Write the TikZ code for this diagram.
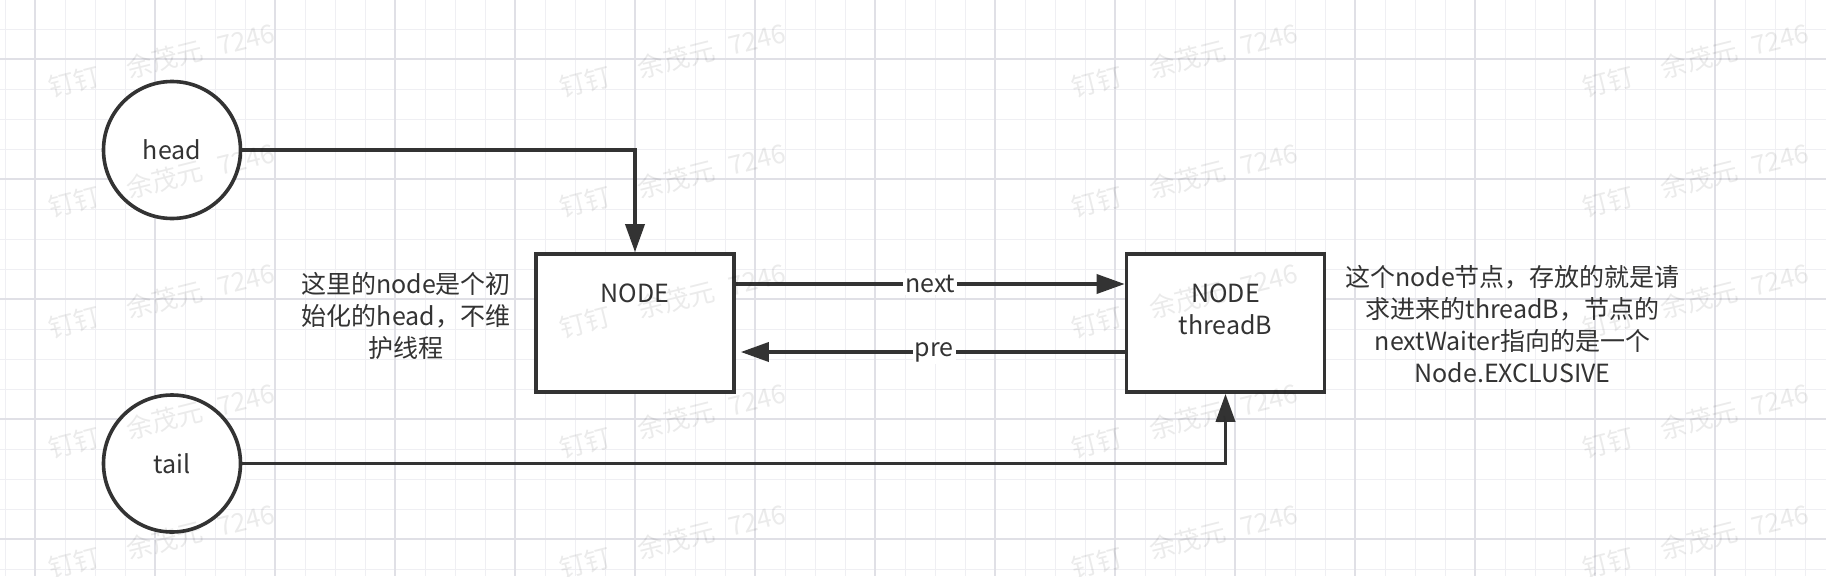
\documentclass[tikz,border=0pt]{standalone}
\usepackage{fontspec}
\setmainfont{Noto Sans CJK SC}
\usetikzlibrary{arrows.meta,positioning}

\definecolor{ink}{HTML}{333333}
\definecolor{gridminor}{RGB}{239,239,243}
\definecolor{gridmajor}{RGB}{224,224,230}

\begin{document}
\begin{tikzpicture}[%
    x=1pt, y=-1pt,              % one unit per pixel, y grows downwards
    >={Triangle[length=28pt,width=19pt]},
    node distance=2cm,
    font=\fontsize{25}{32}\selectfont,
    ]

\tikzset{
    base/.style={draw=ink, line width=3.6pt, fill=white, text=ink, align=center},
    ptr/.style={base, circle, minimum size=137pt, inner sep=0pt},
    blk/.style={base, rectangle, minimum width=198pt, minimum height=138pt, inner sep=0pt},
    note/.style={text=ink, align=center, inner sep=0pt},
    lbl/.style={fill=white, text=ink, inner sep=2pt},
    link/.style={->, draw=ink, line width=3.6pt},
    wmark/.style={text=black, text opacity=0.08, rotate=14, anchor=west, inner sep=0pt,
        font=\fontsize{26}{26}\selectfont},
}

\useasboundingbox (0,0) rectangle (1826,576);

%% Background grid
\fill[white] (0,0) rectangle (1826,576);
\foreach \x in {5,35,...,1805} \draw[gridminor, line width=1pt] (\x,0) -- (\x,576);
\foreach \y in {29,59,...,569} \draw[gridminor, line width=1pt] (0,\y) -- (1826,\y);
\foreach \x in {35,155,...,1715} \draw[gridmajor, line width=1.5pt] (\x,0) -- (\x,576);
\foreach \y in {59,179,...,539} \draw[gridmajor, line width=1.5pt] (0,\y) -- (1826,\y);

%% Pointers
\node [ptr] (head) at (172,150) {head};
\node [ptr, on grid, below=313.5pt of head] (tail) {tail};

%% Queue nodes
\node [blk] (nodeA) at (635,323) {};
\node [note] (nodeAcap) at ([yshift=-41.5pt]nodeA.north) {NODE};
\node [blk, on grid, right=590.5pt of nodeA] (nodeB) {};
\node [note] (nodeBcap) at ([yshift=-57pt]nodeB.north) {NODE\\threadB};

%% Notes
\node [note, on grid, left=229pt of nodeA, yshift=7pt] (noteA)
    {这里的node是个初\\始化的head，不维\\护线程};
\node [note, on grid, right=287pt of nodeB, yshift=-1.5pt] (noteB)
    {这个node节点，存放的就是请\\求进来的threadB，节点的\\nextWaiter指向的是一个\\Node.EXCLUSIVE};

%% Links
\draw[link] (head) -| (nodeA);
\draw[link] (tail) -| (nodeB);
\draw[link] ([yshift=39pt]nodeA.east) -- node[lbl] (nextlbl) {next} ([yshift=39pt]nodeB.west);
\draw[link, shorten >=5pt] ([yshift=-29pt]nodeB.west) -- node[lbl, xshift=4pt] (prelbl) {pre} ([yshift=-29pt]nodeA.east);

%% Watermark
\foreach \i in {0,...,3}
  \foreach \j in {0,...,4}
    \node [wmark] (wm-\i-\j) at (48.5+511.5*\i, 88+120.3*\j) {钉钉\hspace{1.1em}余茂元\hspace{0.6em}7246};
\end{tikzpicture}
\end{document}
